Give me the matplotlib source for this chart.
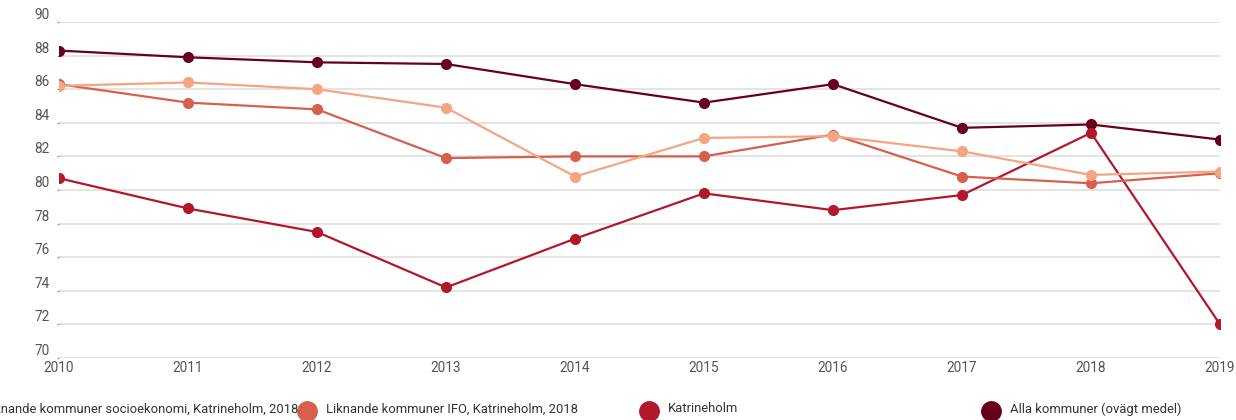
import matplotlib.pyplot as plt
from matplotlib.lines import Line2D

years = [2010, 2011, 2012, 2013, 2014, 2015, 2016, 2017, 2018, 2019]

socioekonomi = [86.2, 86.4, 86.0, 84.9, 80.8, 83.1, 83.2, 82.3, 80.9, 81.1]
ifo = [86.3, 85.2, 84.8, 81.9, 82.0, 82.0, 83.3, 80.8, 80.4, 81.0]
katrineholm = [80.7, 78.9, 77.5, 74.2, 77.1, 79.8, 78.8, 79.7, 83.4, 72.0]
alla = [88.3, 87.9, 87.6, 87.5, 86.3, 85.2, 86.3, 83.7, 83.9, 83.0]

names = ["Liknande kommuner socioekonomi, Katrineholm, 2018",
         "Liknande kommuner IFO, Katrineholm, 2018",
         "Katrineholm",
         "Alla kommuner (ovägt medel)"]
colors = ["#f4a582", "#d6604d", "#b2182b", "#67001f"]
series = [socioekonomi, ifo, katrineholm, alla]

yticks = [70, 72, 74, 76, 78, 80, 82, 84, 86, 88, 90]

plt.rcParams['font.family'] = ['Roboto', 'DejaVu Sans']

W, H = 1236, 420
fig = plt.figure(figsize=(W / 100, H / 100), dpi=100)
ax = fig.add_axes([59 / W, 1 - 358 / H, (1220 - 59) / W, (358 - 22) / H])

# draw back to front so the lighter series sit on top
for i in reversed(range(len(series))):
    ax.plot(years, series[i], color=colors[i], lw=1.6, marker='o',
            markersize=7, zorder=3 + (len(series) - i))

ax.set_xlim(years[0], years[-1])
ax.set_ylim(70, 90)
ax.set_yticks(yticks)
ax.set_xticks(years)
ax.grid(axis='y', color='#e2e2e2', lw=1.3)
ax.set_axisbelow(True)
for s in ax.spines.values():
    s.set_visible(False)

ax.tick_params(axis='y', length=1.5, width=1, color='#999999', pad=5,
               labelsize=9.8, labelcolor='#555555')
ax.tick_params(axis='x', length=0, pad=2, labelsize=9.8, labelcolor='#555555')
for lab in ax.get_yticklabels():
    lab.set_verticalalignment('bottom')

# legend row along the bottom edge
for i, (name, c) in enumerate(zip(names, colors)):
    mx = -35 + i * 342
    fig.add_artist(Line2D([mx / W], [1 - 411 / H], marker='o', markersize=14,
                          color=c, linestyle='none', transform=fig.transFigure))
    fig.text((mx + 19) / W, 1 - 409 / H, name, fontsize=9.4, color='#333333',
             va='center', ha='left')

fig.savefig('out.png', dpi=100)
